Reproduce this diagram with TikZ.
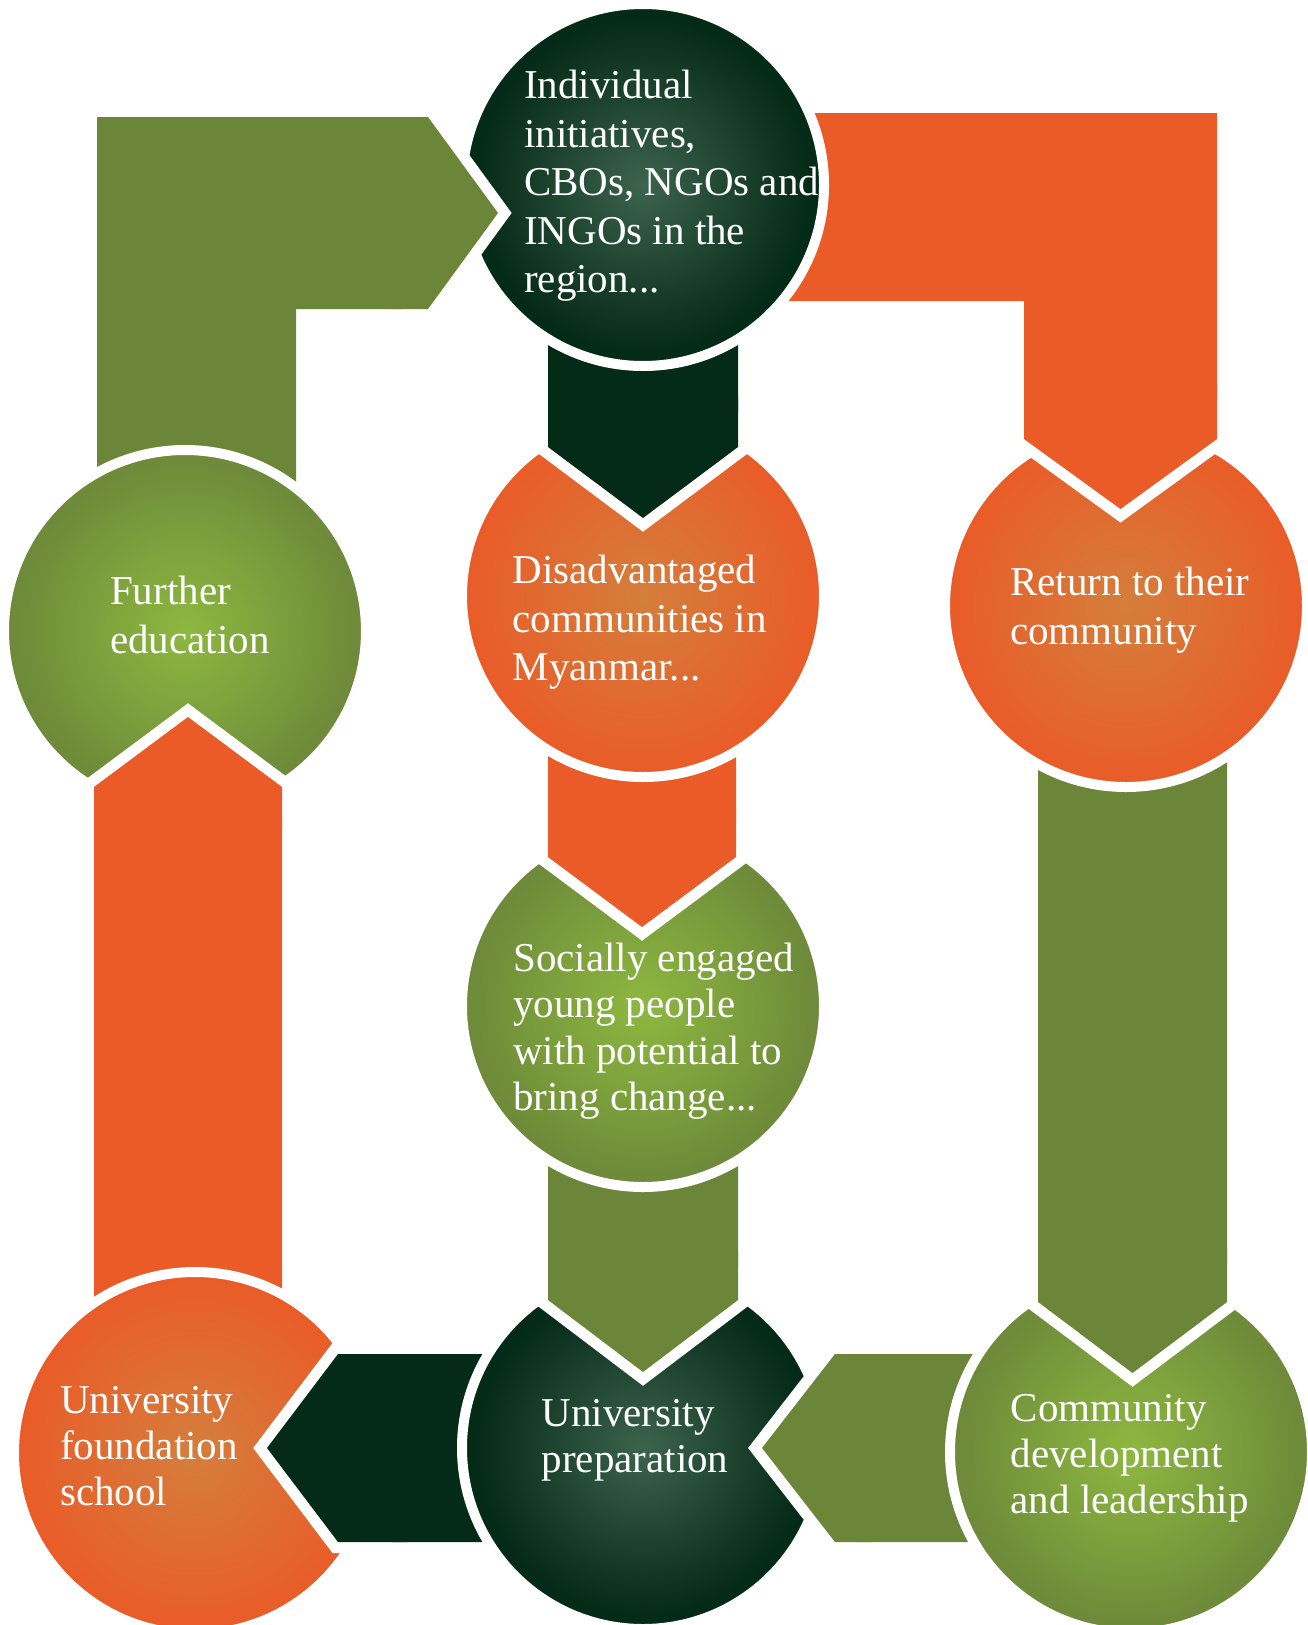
\documentclass[tikz,border=0pt]{standalone}
\usepackage{fontspec}
\setmainfont{Liberation Serif}
\usepackage{tikz}
\usetikzlibrary{calc,backgrounds}

\definecolor{darkbar}{HTML}{042A18}
\definecolor{darkmid}{HTML}{3C634C}
\definecolor{orangebar}{HTML}{EA5B28}
\definecolor{orangemid}{HTML}{D47E3C}
\definecolor{greenbar}{HTML}{6B8639}
\definecolor{greenmid}{HTML}{8DB840}

\pgfdeclareradialshading{darkball}{\pgfpoint{0bp}{0bp}}{color(0bp)=(darkmid); color(23bp)=(darkbar); color(50bp)=(darkbar)}
\pgfdeclareradialshading{orangeball}{\pgfpoint{0bp}{0bp}}{color(0bp)=(orangemid); color(25bp)=(orangebar); color(50bp)=(orangebar)}
\pgfdeclareradialshading{greenball}{\pgfpoint{0bp}{0bp}}{color(0bp)=(greenmid); color(26bp)=(greenbar); color(50bp)=(greenbar)}

\begin{document}
\begin{tikzpicture}[x=1pt,y=-1pt]
        \tikzstyle{ball}=[circle,shade,minimum size=362pt,inner sep=0pt,draw=white,line width=10pt]
        \tikzstyle{words}=[text=white,align=left,anchor=north west,inner sep=0pt,font=\fontsize{41}{48.5}\selectfont]
        \tikzstyle{words2}=[words,font=\fontsize{41}{46.2}\selectfont]
        \tikzstyle{head}=[preaction={draw=white,line width=22pt,shorten <=15pt,shorten >=15pt}]
        \useasboundingbox (0,0) rectangle (1307,1625);

        % the eight circles
        \node[ball,shading=darkball]   (ind) at (643,185)   {};
        \node[ball,shading=orangeball] (dis) at (643,596)   {};
        \node[ball,shading=greenball]  (soc) at (643,1006)  {};
        \node[ball,shading=darkball]   (uni) at (643,1448)  {};
        \node[ball,shading=orangeball] (fou) at (195,1453)  {};
        \node[ball,shading=greenball]  (fur) at (185,631)   {};
        \node[ball,shading=orangeball] (ret) at (1126,606)  {};
        \node[ball,shading=greenball]  (com) at (1131,1452) {};

        % arrow tips
        \coordinate (t1) at (643,518);
        \coordinate (t2) at (642,927);
        \coordinate (t3) at (643,1372);
        \coordinate (t4) at (267,1448);
        \coordinate (t5) at (188,717);
        \coordinate (t6) at (498,213);
        \coordinate (t7) at (1120.5,509);
        \coordinate (t8) at (1132.5,1373);
        \coordinate (t9) at (762,1448);

        % bodies of the arrows, behind the circles
        \begin{scope}[on background layer]
        \fill[darkbar] ($(ind)+(-95,0)$) -- ($(t1)+(-95,-71)$) -- (t1) -- ($(t1)+(95,-71)$) -- ($(ind)+(95,0)$) -- cycle;
        \fill[orangebar] ($(t2 |- dis)+(-94,0)$) -- ($(t2)+(-94,-70)$) -- (t2) -- ($(t2)+(94,-70)$) -- ($(t2 |- dis)+(94,0)$) -- cycle;
        \fill[greenbar] ($(soc)+(-95,0)$) -- ($(t3)+(-95,-72)$) -- (t3) -- ($(t3)+(95,-72)$) -- ($(soc)+(95,0)$) -- cycle;
        \fill[darkbar] ($(t4 -| uni)+(0,-94)$) -- ($(t4)+(71,-94)$) -- (t4) -- ($(t4)+(71,94)$) -- ($(t4 -| uni)+(0,94)$) -- cycle;
        \fill[orangebar] ($(t5 |- fou)+(-94,0)$) -- ($(t5)+(-94,70)$) -- (t5) -- ($(t5)+(94,70)$) -- ($(t5 |- fou)+(94,0)$) -- cycle;
        \fill[greenbar] ($(fur)+(-88,0)$) -- ($(fur |- t6)+(-88,-96)$) -- ($(t6)+(-70,-96)$) -- (t6)
                -- ($(t6)+(-70,96)$) -- ($(fur |- t6)+(111,96)$) -- ($(fur)+(111,0)$) -- cycle;
        \fill[orangebar] ($(ind)+(0,-72)$) -- ($(t7 |- ind)+(96.5,-72)$) -- ($(t7)+(96.5,-70)$) -- (t7)
                -- ($(t7)+(-96.5,-70)$) -- ($(t7 |- ind)+(-96.5,116)$) -- ($(ind)+(0,116)$) -- cycle;
        \fill[greenbar] ($(t8 |- ret)+(-94.5,0)$) -- ($(t8)+(-94.5,-71)$) -- (t8) -- ($(t8)+(94.5,-71)$) -- ($(t8 |- ret)+(94.5,0)$) -- cycle;
        \fill[greenbar] ($(t9 -| com)+(0,-94)$) -- ($(t9)+(73,-94)$) -- (t9) -- ($(t9)+(73,94)$) -- ($(t9 -| com)+(0,94)$) -- cycle;
        \end{scope}

        % heads of the arrows, over the circles
        \fill[darkbar,head] ($(t1)+(-95,-120)$) -- ($(t1)+(-95,-71)$) -- (t1) -- ($(t1)+(95,-71)$) -- ($(t1)+(95,-120)$);
        \fill[orangebar,head] ($(t2)+(-94,-120)$) -- ($(t2)+(-94,-70)$) -- (t2) -- ($(t2)+(94,-70)$) -- ($(t2)+(94,-120)$);
        \fill[greenbar,head] ($(t3)+(-95,-120)$) -- ($(t3)+(-95,-72)$) -- (t3) -- ($(t3)+(95,-72)$) -- ($(t3)+(95,-120)$);
        \fill[darkbar,head] ($(t4)+(140,-94)$) -- ($(t4)+(71,-94)$) -- (t4) -- ($(t4)+(71,94)$) -- ($(t4)+(140,94)$);
        \fill[orangebar,head] ($(t5)+(-94,113)$) -- ($(t5)+(-94,70)$) -- (t5) -- ($(t5)+(94,70)$) -- ($(t5)+(94,113)$);
        \fill[greenbar,head] ($(t6)+(-110,-96)$) -- ($(t6)+(-70,-96)$) -- (t6) -- ($(t6)+(-70,96)$) -- ($(t6)+(-110,96)$);
        \fill[orangebar,head] ($(t7)+(-96.5,-125)$) -- ($(t7)+(-96.5,-70)$) -- (t7) -- ($(t7)+(96.5,-70)$) -- ($(t7)+(96.5,-125)$);
        \fill[greenbar,head] ($(t8)+(-94.5,-125)$) -- ($(t8)+(-94.5,-71)$) -- (t8) -- ($(t8)+(94.5,-71)$) -- ($(t8)+(94.5,-125)$);
        \fill[greenbar,head] ($(t9)+(110,-94)$) -- ($(t9)+(73,-94)$) -- (t9) -- ($(t9)+(73,94)$) -- ($(t9)+(110,94)$);

        % texts
        \node[words] (ind-t) at (524,70) {Individual\\initiatives,\\CBOs, NGOs and\\INGOs in the\\region...};
        \node[words] (dis-t) at (512.5,555) {Disadvantaged\\communities in\\Myanmar...};
        \node[words2] (soc-t) at (513,943) {Socially engaged\\young people\\with potential to\\bring change...};
        \node[words2] (uni-t) at (541.5,1399) {University\\preparation};
        \node[words2] (fou-t) at (60,1386) {University\\foundation\\school};
        \node[words] (fur-t) at (110,576) {Further\\education};
        \node[words] (ret-t) at (1010,567) {Return to their\\community};
        \node[words2] (com-t) at (1010.5,1394) {Community\\development\\and leadership};
\end{tikzpicture}
\end{document}
